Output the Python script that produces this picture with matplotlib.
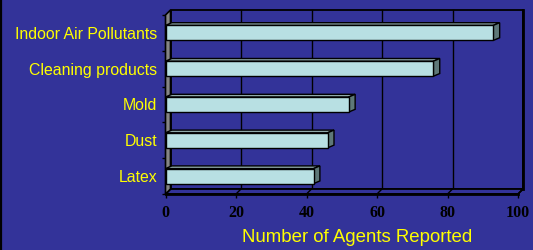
import matplotlib
matplotlib.use("Agg")
import matplotlib.pyplot as plt
from matplotlib.patches import Polygon
from matplotlib.lines import Line2D

categories = ["Latex", "Dust", "Mold", "Cleaning products", "Indoor Air Pollutants"]
values = [42, 46, 52, 76, 93]
x_ticks = [0, 20, 40, 60, 80, 100]
x_label = "Number of Agents Reported"

BG = "#333399"
YELLOW = "#ffff00"
FRONT = "#b8e0e3"
TOP = "#8fa9a9"
SIDE = "#5e7878"
WALL = "#858585"

W, H = 533, 250
fig = plt.figure(figsize=(W / 100, H / 100), dpi=100, facecolor=BG)

# front plane pixel geometry
x0p, x1p = 165.5, 518.0
ytop, ybot = 15.0, 194.0
ax = fig.add_axes([x0p / W, (H - ybot) / H, (x1p - x0p) / W, (ybot - ytop) / H])
ax.set_facecolor("none")
ax.set_xlim(0, 100)
ax.set_ylim(-0.5, len(categories) - 0.5)
for s in ax.spines.values():
    s.set_visible(False)

n = len(categories)
dx, dy = 5 / 3.525, 5 / 35.8          # wall depth in data units
bdx, bdy = 1.8, 0.075                  # bar depth
h = 0.21

# back wall
ax.add_patch(Polygon([(dx, -0.5 + dy), (100 + dx, -0.5 + dy), (100 + dx, n - 0.5 + dy), (dx, n - 0.5 + dy)],
                     closed=True, facecolor="none", edgecolor="black", lw=1.3, clip_on=False, zorder=1))
ax.plot([100 + dx, 100 + dx], [-0.5 + dy, n - 0.5 + dy], color="black", lw=2, clip_on=False, zorder=1)
for v in x_ticks[1:-1]:
    ax.plot([v + dx, v + dx], [-0.5 + dy, n - 0.5 + dy], color="black", lw=1, clip_on=False, zorder=1)
# floor
ax.add_patch(Polygon([(0, -0.5), (100, -0.5), (100 + dx, -0.5 + dy), (dx, -0.5 + dy)],
                     closed=True, facecolor=BG, edgecolor="black", lw=1.3, clip_on=False, zorder=2))
for v in x_ticks:
    ax.plot([v, v + dx], [-0.5, -0.5 + dy], color="black", lw=1, clip_on=False, zorder=2)
ax.plot([0, 100], [-0.5, -0.5], color="black", lw=2, clip_on=False, zorder=2)
# left wall
ax.add_patch(Polygon([(0, -0.5), (0, n - 0.5), (dx, n - 0.5 + dy), (dx, -0.5 + dy)],
                     closed=True, facecolor=WALL, edgecolor="black", lw=1.2, clip_on=False, zorder=3))

# bars
for i, v in enumerate(values):
    c = i
    ax.add_patch(Polygon([(0, c + h), (v, c + h), (v + bdx, c + h + bdy), (bdx, c + h + bdy)],
                         closed=True, facecolor=TOP, edgecolor="black", lw=1, clip_on=False, zorder=4))
    ax.add_patch(Polygon([(v, c - h), (v + bdx, c - h + bdy), (v + bdx, c + h + bdy), (v, c + h)],
                         closed=True, facecolor=SIDE, edgecolor="black", lw=1, clip_on=False, zorder=4))
    ax.barh(c, v, height=2 * h, left=0, color=FRONT, edgecolor="black", linewidth=1, zorder=5, clip_on=False)

# axes ticks
ax.set_yticks(range(n))
ax.set_yticklabels(categories, color=YELLOW, fontsize=11.4, family=["Liberation Sans", "DejaVu Sans"])
ax.set_yticks([i - 0.5 for i in range(n + 1)], minor=True)
ax.tick_params(axis="y", which="major", length=0, pad=6.1)
ax.tick_params(axis="y", which="minor", length=3, width=1, color="black", direction="out")

ax.set_xticks(x_ticks)
ax.set_xticklabels([str(t) for t in x_ticks], fontsize=11.5, fontweight="bold",
                   family=["Liberation Serif", "DejaVu Serif"], color="black")
ax.tick_params(axis="x", length=3, width=1, color="black", direction="out", pad=5)

ax.set_xlabel(x_label, color=YELLOW, fontsize=13.4, family=["Liberation Sans", "DejaVu Sans"], va="center")
ax.xaxis.set_label_coords((357 - x0p) / (x1p - x0p), (ybot - 237.5) / (ybot - ytop))

# left border line
fig.add_artist(Line2D([1 / W, 1 / W], [0, 1], color="black", lw=1.6, transform=fig.transFigure))

fig.savefig("out.png", dpi=100, facecolor=BG)
